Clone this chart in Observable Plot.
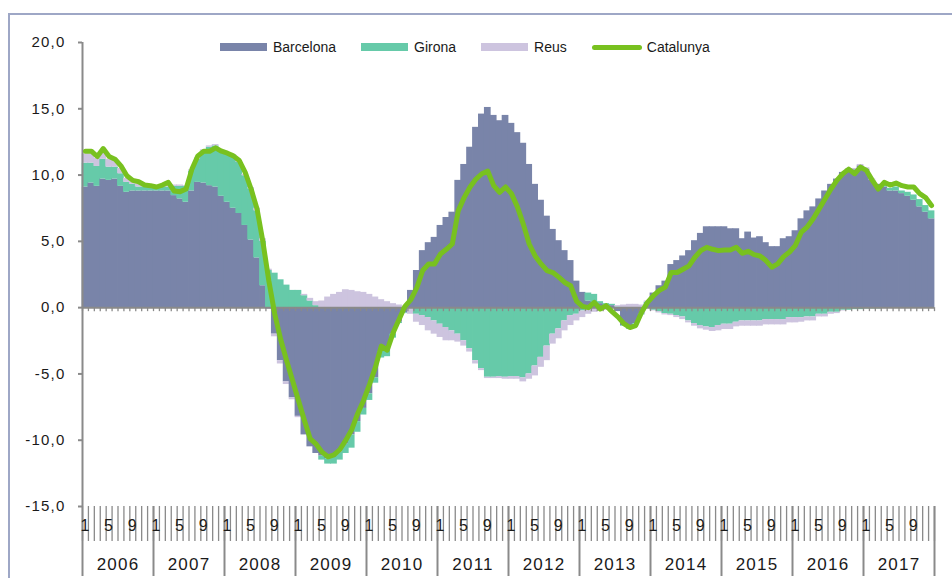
<!DOCTYPE html>
<html><head><meta charset="utf-8">
<script src="https://cdn.jsdelivr.net/npm/d3@7"></script>
<script src="https://cdn.jsdelivr.net/npm/@observablehq/plot@0.6"></script>
<style>
html,body{margin:0;padding:0;background:#fff;}
#wrap{position:relative;width:952px;height:578px;overflow:hidden;font-family:"Liberation Sans",Arial,sans-serif;}
#border{position:absolute;left:8px;top:13px;width:980px;height:620px;border-left:2px solid #9ea7c6;border-top:2px solid #9ea7c6;box-sizing:border-box;}
#chart{position:absolute;left:0;top:0;}
#legend{position:absolute;top:38px;left:220px;height:18px;display:flex;align-items:center;font-size:14px;color:#1a1a1a;white-space:nowrap;}
.item{display:flex;align-items:center;margin-right:25px;}
.sw{width:47px;height:8px;margin-right:6px;}
.ln{width:50px;height:5px;border-radius:3px;margin-right:5px;}
#chart svg text{letter-spacing:1.2px;}
</style></head><body>
<div id="wrap"><div id="border"></div><div id="chart"></div><div id="legend"></div></div>
<script>
// ---- data (monthly, Jan 2006 – Dec 2017) ----
const years = [2006, 2007, 2008, 2009, 2010, 2011, 2012, 2013, 2014, 2015, 2016, 2017];
const monthLabels = [1, 5, 9];
const yTicks = [-15, -10, -5, 0, 5, 10, 15, 20];
const seriesNames = ["Barcelona", "Girona", "Reus"];
const lineName = "Catalunya";

const barcelona = [
  9.1, 9.4, 9.15, 9.7, 9.6, 9.7, 9.15, 8.7, 8.8, 8.8, 8.8, 8.8,
  8.8, 8.8, 8.8, 8.45, 8.2, 7.95, 8.8, 9.45, 9.4, 9.2, 9.1, 8.4,
  7.95, 7.5, 7.1, 6.2, 5.1, 3.75, 1.65, -0.1, -2.0, -4.0, -5.6, -6.8,
  -8.2, -9.6, -10.5, -11.0, -11.2, -11.4, -11.3, -10.9, -10.3, -9.6, -8.6, -7.6,
  -6.5, -5.3, -3.3, -3.2, -2.0, -1.1, -0.4, 1.3, 2.8, 4.3, 4.9, 5.3,
  6.2, 6.8, 7.2, 9.6, 10.8, 12.1, 13.6, 14.6, 15.1, 14.5, 14.1, 14.5,
  13.9, 13.2, 12.4, 10.8, 9.3, 8.1, 6.9, 5.9, 5.05, 4.3, 3.55, 2.0,
  1.15, 0.5, 0.4, 0.3, 0.2, 0.15, -0.3, -1.35, -1.6, -1.2, -0.5, 0.3,
  1.1, 1.65, 2.0, 3.25, 3.55, 3.9, 4.3, 5.05, 5.6, 6.1, 6.1, 6.1,
  6.1, 5.95, 5.95, 5.2, 5.7, 5.25, 5.35, 4.9, 4.6, 4.6, 5.2, 5.35,
  5.8, 6.7, 7.3, 7.6, 8.2, 8.8, 9.3, 9.7, 10.2, 10.45, 10.4, 10.7,
  10.45, 9.6, 9.3, 9.1, 8.8, 8.8, 8.6, 8.4, 8.1, 7.6, 7.2, 6.7
];
const girona = [
  1.8, 1.5, 1.5, 1.5, 1.0, 0.9, 0.95, 0.75, 0.5, 0.3, 0.3, 0.3,
  0.3, 0.3, 0.3, 0.7, 0.95, 1.2, 1.5, 1.75, 2.4, 2.9, 3.1, 3.4,
  3.65, 3.95, 3.85, 3.75, 3.85, 3.55, 3.35, 2.8, 2.6, 2.1, 1.7, 1.3,
  1.3, 0.9, 0.5, 0.15, -0.3, -0.4, -0.5, -0.6, -0.7, -1.0, -0.8, -0.5,
  -0.5, -0.4, -0.5, -0.5, -0.3, -0.1, -0.05, -0.1, -0.5, -0.6, -0.75, -1.0,
  -1.25, -1.5, -1.75, -2.0, -2.5, -3.1, -4.0, -4.6, -5.25, -5.25, -5.2, -5.25,
  -5.2, -5.2, -5.3, -5.0, -4.4, -3.75, -2.9, -2.0, -1.6, -1.0, -0.6, -0.5,
  -0.25, 0.6, 0.6, 0.15, 0.1, 0.1, 0.05, -0.05, -0.05, -0.05, -0.05, 0.1,
  -0.2, -0.3, -0.45, -0.5, -0.6, -0.7, -1.0, -1.2, -1.35, -1.45, -1.5, -1.35,
  -1.25, -1.25, -1.1, -1.0, -1.0, -1.0, -1.0, -0.9, -0.9, -0.9, -0.9, -0.75,
  -0.75, -0.75, -0.7, -0.7, -0.5, -0.5, -0.35, -0.35, -0.2, -0.2, -0.15, -0.15,
  -0.1, -0.1, -0.1, 0.2, 0.2, 0.3, 0.2, 0.3, 0.4, 0.55, 0.5, 0.6
];
const reus = [
  0.7, 0.7, 0.6, 0.5, 0.6, 0.5, 0.4, 0.3, 0.2, 0.2, 0.15, 0.1,
  0.1, 0.1, 0.1, 0.1, 0.1, 0.05, 0.1, 0.1, 0.1, 0.1, 0.1, 0.1,
  0.1, 0.1, 0.1, 0.1, 0.1, 0.2, 0.2, 0.1, -0.2, -0.25, -0.2, -0.15,
  -0.1, 0.1, 0.2, 0.3, 0.5, 0.8, 1.0, 1.15, 1.35, 1.3, 1.2, 1.15,
  1.0, 0.8, 0.6, 0.45, 0.3, 0.2, 0.1, -0.4, -0.6, -0.75, -1.0, -1.0,
  -1.0, -1.0, -0.75, -0.6, -0.4, -0.25, -0.25, -0.15, -0.1, -0.1, -0.15, -0.15,
  -0.2, -0.2, -0.3, -0.4, -0.75, -0.75, -1.1, -0.75, -0.75, -0.75, -0.75, -0.5,
  -0.5, -0.5, -0.35, -0.25, -0.2, -0.1, 0.1, 0.2, 0.25, 0.25, 0.2, 0.1,
  -0.05, -0.1, -0.1, -0.1, -0.15, -0.2, -0.15, -0.2, -0.25, -0.25, -0.3, -0.4,
  -0.4, -0.4, -0.35, -0.4, -0.4, -0.4, -0.4, -0.4, -0.4, -0.4, -0.4, -0.4,
  -0.4, -0.35, -0.3, -0.3, -0.2, -0.2, -0.15, -0.1, -0.05, 0, 0.1, 0.1,
  0.1, 0.1, 0, 0, 0, 0, 0, 0, 0, 0, 0, 0
];
const catalunya = [
  11.8, 11.8, 11.4, 12.0, 11.4, 11.2, 10.7, 9.95, 9.6, 9.5, 9.25, 9.2,
  9.1, 9.25, 9.45, 8.8, 8.75, 8.95, 10.45, 11.45, 11.8, 11.8, 12.05, 11.8,
  11.65, 11.45, 11.1, 10.2, 8.95, 7.45, 4.95, 2.0, -0.5, -2.4, -4.0, -5.5,
  -7.0, -8.5, -9.9, -10.3, -10.9, -11.25, -11.1, -10.7, -10.0, -9.2, -8.0, -7.0,
  -5.8, -4.5, -2.9, -3.2, -1.9, -0.9, 0.1, 0.6, 1.5, 2.8, 3.3, 3.3,
  4.05, 4.4, 4.8, 7.3, 8.3, 9.1, 9.7, 10.1, 10.3, 9.2, 8.7, 9.1,
  8.6, 7.6, 6.3, 4.8, 3.9, 3.3, 2.8, 2.65, 2.3, 1.9, 1.65, 0.5,
  0.1, 0.0, 0.4, -0.1, 0.15, -0.3, -0.7, -1.2, -1.5, -1.35, -0.35, 0.4,
  0.9, 1.3, 1.55, 2.65, 2.65, 2.9, 3.15, 3.8, 4.3, 4.55, 4.4, 4.3,
  4.35, 4.35, 4.55, 4.1, 4.25, 4.0, 3.9, 3.55, 3.05, 3.3, 3.85, 4.2,
  4.7, 5.7, 6.1, 6.7, 7.45, 8.2, 8.95, 9.6, 10.1, 10.45, 10.1, 10.6,
  10.35, 9.6, 8.95, 9.45, 9.25, 9.4, 9.2, 9.1, 9.1, 8.6, 8.3, 7.7
];
const colors = ["#7984a9", "#66caa9", "#cdc4df"];
const lineColor = "#78c11f";

// ---- tables built from the arrays ----
const seriesValues = [barcelona, girona, reus];
const nMonths = years.length * 12;
const barRows = [];
for (let i = 0; i < nMonths; i++) {
  seriesNames.forEach((s, k) => barRows.push({i, series: s, value: seriesValues[k][i]}));
}
const lineRows = catalunya.map((v, i) => ({x: i + 0.5, value: v}));
const boundaries = d3.range(0, nMonths + 1);
const yearStarts = years.map((y, k) => k * 12).concat([nMonths]);
const yearCenters = years.map((y, k) => k * 12 + 6);
const monthCenters = [];
years.forEach((y, k) => monthLabels.forEach(m => monthCenters.push(k * 12 + (m - 1) + 0.5)));

const fmt = d => d.toFixed(1).replace(".", ",");
const grey = "#8a8a8a";
const ink = "#1a1a1a";

const chart = Plot.plot({
  width: 952, height: 578,
  marginLeft: 82, marginRight: 18, marginTop: 42, marginBottom: 72,
  style: {fontFamily: "'Liberation Sans', Arial, sans-serif", fontSize: "15px", background: "transparent", color: ink},
  x: {type: "linear", domain: [0, nMonths], label: null},
  y: {domain: [-15, 20], label: null},
  color: {domain: seriesNames, range: colors},
  marks: [
    Plot.rectY(barRows, {x: "i", interval: 1, y: "value", fill: "series", insetLeft: -0.4, insetRight: -0.4}),
    Plot.ruleY([0], {stroke: grey, strokeWidth: 2}),
    Plot.ruleX(boundaries, {x: d => d, y1: 0, y2: 0, insetBottom: -4, stroke: grey, strokeWidth: 1.3}),
    Plot.ruleX([0], {stroke: grey, strokeWidth: 2}),
    Plot.axisY({ticks: yTicks, tickFormat: fmt, tickSize: 4, tickPadding: 13, stroke: grey, strokeWidth: 2, fill: ink, fontSize: 15, label: null}),
    Plot.axisX({ticks: boundaries, tickFormat: () => "", tickSize: 35, stroke: grey, strokeWidth: 1.3, label: null}),
    Plot.axisX({ticks: yearStarts, tickFormat: () => "", tickSize: 70, stroke: grey, strokeWidth: 2, label: null}),
    Plot.axisX({ticks: monthCenters, tickFormat: d => String(monthLabels[Math.round((d - 0.5) % 12 / 4)]), tickSize: 0, tickPadding: 13, fill: ink, fontSize: 16, label: null}),
    Plot.axisX({ticks: yearCenters, tickFormat: d => String(years[Math.floor(d / 12)]), tickSize: 0, tickPadding: 51, fill: ink, fontSize: 17, label: null}),
    Plot.line(lineRows, {x: "x", y: "value", stroke: lineColor, strokeWidth: 5, strokeLinejoin: "round", strokeLinecap: "round"})
  ]
});
document.getElementById("chart").appendChild(chart);

// ---- legend ----
const legend = document.getElementById("legend");
seriesNames.forEach((s, k) => {
  const it = document.createElement("div"); it.className = "item";
  it.innerHTML = `<span class="sw" style="background:${colors[k]}"></span><span>${s}</span>`;
  legend.appendChild(it);
});
const li = document.createElement("div"); li.className = "item";
li.innerHTML = `<span class="ln" style="background:${lineColor}"></span><span>${lineName}</span>`;
legend.appendChild(li);
</script>
</body></html>
